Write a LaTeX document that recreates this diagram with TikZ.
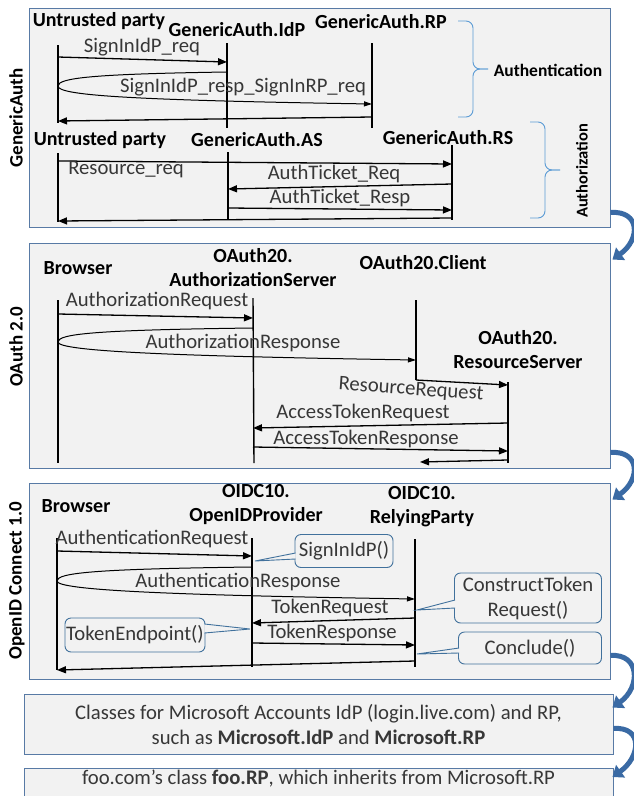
\documentclass[tikz,border=0pt]{standalone}
\usepackage{fontspec}
\setmainfont{Carlito}
\usetikzlibrary{arrows.meta}
\definecolor{panelgray}{HTML}{F2F2F2}
\definecolor{panelline}{RGB}{88,122,165}
\definecolor{braceblue}{RGB}{91,155,213}
\definecolor{calloutline}{RGB}{65,113,156}
\definecolor{flowblue}{RGB}{58,106,164}
\definecolor{labelgray}{RGB}{55,55,55}

\begin{document}
\begin{tikzpicture}[x=1pt,y=-1pt,font=\fontsize{20.7}{25}\selectfont]
  \clip (0,0) rectangle (634,796);
  \fill[white] (0,0) rectangle (634,796);
  \tikzstyle{Panel}=[draw=panelline,fill=panelgray,line width=0.9pt,inner sep=0pt]
  \tikzstyle{Side}=[rotate=90,font=\fontsize{19}{23}\selectfont\bfseries,inner sep=0pt]
  \tikzstyle{Party}=[font=\fontsize{20}{24}\selectfont\bfseries,align=center,inner sep=0pt]
  \tikzstyle{Life}=[line width=1.4pt]
  \tikzstyle{Msg}=[line width=1.3pt,-{Triangle[length=9pt,width=7pt]}]
  \tikzstyle{Redirect}=[line width=1pt,-{Triangle[length=8pt,width=5pt]}]
  \tikzstyle{MsgLabel}=[text=labelgray,inner sep=0pt]
  \tikzstyle{Brace}=[draw=braceblue,line width=0.9pt,rounded corners=7pt]
  \tikzstyle{Call}=[draw=calloutline,fill=panelgray,line width=0.9pt,rounded corners=6pt,align=center,text=labelgray,inner sep=0pt]
  \tikzstyle{Wedge}=[draw=calloutline,fill=panelgray,line width=0.9pt]
  \tikzstyle{Flow}=[draw=flowblue,line width=5pt,-{Triangle[length=10pt,width=15pt]}]

  \node[Panel,minimum width=581pt,minimum height=219pt] (ga) at (319.5,117.5) {};
  \node[Panel,minimum width=581pt,minimum height=225pt] (oa) at (319.5,355.5) {};
  \node[Panel,minimum width=581pt,minimum height=196pt] (oidc) at (319.5,581) {};
  \node[Panel,minimum width=589pt,minimum height=60pt,align=center,text=labelgray] (ms) at (318.5,724)
    {Classes for Microsoft Accounts IdP (login.live.com) and RP,\\
     such as \textbf{Microsoft.IdP} and \textbf{Microsoft.RP}};
  \node[Panel,minimum width=589pt,anchor=north,inner ysep=3pt,text height=13pt,text depth=40pt,
        text=labelgray] (foo) at (318.5,768)
    {foo.com’s class \textbf{foo.RP}, which inherits from Microsoft.RP};

  \node[Side] (s-ga) at (16,118) {GenericAuth};
  \node[Side] (s-oa) at (16,347) {OAuth 2.0};
  \node[Side] (s-oidc) at (17,581) {OpenID Connect 1.0};

  \node[Party] (p-un1) at (99,21) {Untrusted party};
  \node[Party] (p-idp) at (237,30) {GenericAuth.IdP};
  \node[Party] (p-rp) at (381,22) {GenericAuth.RP};
  \node[Party] (p-un2) at (100,140) {Untrusted party};
  \node[Party] (p-as) at (257,140) {GenericAuth.AS};
  \node[Party] (p-rs) at (448,138) {GenericAuth.RS};
  \coordinate (u1t) at (58,45);   \coordinate (u1b) at (58,123);
  \coordinate (idpt) at (227,43); \coordinate (idpb) at (227,128);
  \coordinate (rpt) at (372,43);  \coordinate (rpb) at (372,128);
  \coordinate (u2t) at (58,153);  \coordinate (u2b) at (58,222);
  \coordinate (ast) at (228,152); \coordinate (asb) at (228,220);
  \coordinate (rst) at (452,145); \coordinate (rsb) at (452,220);
  \draw[Life] (u1t) -- (u1b);
  \draw[Life] (idpt) -- (idpb);
  \draw[Life] (rpt) -- (rpb);
  \draw[Life] (u2t) -- (u2b);
  \draw[Life] (ast) -- (asb);
  \draw[Life] (rst) -- (rsb);
  \draw[Msg] (u1t |- 0,57) -- (idpt |- 0,62);
  \node[MsgLabel] (l-idpreq) at (142,47) {SignInIdP\_req};
  \draw[Redirect] (idpt |- 0,72) .. controls +(-135,2) and +(0,-8) .. (u1t |- 0,86)
    .. controls +(0,9) and +(-250,-4) .. (rpt |- 0,104);
  \node[MsgLabel] (l-idpresp) at (243,87) {SignInIdP\_resp\_SignInRP\_req};
  \draw[Msg] (rpt |- 0,117) -- (u1t |- 0,121);
  \draw[Msg] (u2t |- 0,161) -- (rst |- 0,164);
  \node[MsgLabel] (l-resreq) at (126,170) {Resource\_req};
  \draw[Msg] (rst |- 0,184) -- (ast |- 0,189);
  \node[MsgLabel] (l-ticketreq) at (334,174) {AuthTicket\_Req};
  \draw[Msg] (ast |- 0,208) -- (rst |- 0,210);
  \node[MsgLabel] (l-ticketresp) at (340,198) {AuthTicket\_Resp};
  \draw[Msg] (rst |- 0,218) -- (u2t |- 0,221);
  \draw[Brace] (458,21) -- (473,21) -- (473,69) -- (488,69);
  \draw[Brace] (458,117) -- (473,117) -- (473,69) -- (488,69);
  \node[Party,font=\fontsize{17.5}{21}\selectfont\bfseries] (authn) at (548,70) {Authentication};
  \draw[Brace] (530,122) -- (545,122) -- (545,170) -- (560,170);
  \draw[Brace] (530,218) -- (545,218) -- (545,170) -- (560,170);
  \node[Side,font=\fontsize{16.5}{20}\selectfont\bfseries] (authz) at (582,171) {Authorization};

  \node[Party] (p-br2) at (78,268) {Browser};
  \node[Party] (p-oas) at (253,268) {OAuth20.\\AuthorizationServer};
  \node[Party] (p-ocl) at (423,263) {OAuth20.Client};
  \node[Party] (p-ors) at (518,350) {OAuth20.\\ResourceServer};
  \coordinate (bwt) at (58,300);  \coordinate (bwb) at (58,463);
  \coordinate (oast) at (253,298); \coordinate (oasb) at (254,463);
  \coordinate (clt) at (416,300); \coordinate (clb) at (416,380);
  \coordinate (orst) at (508,382); \coordinate (orsb) at (508,463);
  \draw[Life] (bwt) -- (bwb);
  \draw[Life] (oast) -- (oasb);
  \draw[Life] (clt) -- (clb);
  \draw[Life] (orst) -- (orsb);
  \draw[Msg] (bwt |- 0,314) -- (oast |- 0,318);
  \node[MsgLabel] (l-authzreq) at (157,301) {AuthorizationRequest};
  \draw[Redirect] (oast |- 0,328) .. controls +(-160,2) and +(0,-8) .. (bwt |- 0,342)
    .. controls +(0,9) and +(-250,-4) .. (clt |- 0,360);
  \node[MsgLabel] (l-authzresp) at (243,343) {AuthorizationResponse};
  \draw[Msg] (clb) -- (orst |- 0,385);
  \node[MsgLabel,rotate=-4] (l-resource) at (411,390) {ResourceRequest};
  \draw[Msg] (orst |- 0,423) -- (oast |- 0,428);
  \node[MsgLabel] (l-atreq) at (363,413) {AccessTokenRequest};
  \draw[Msg] (oast |- 0,447) -- (orst |- 0,451);
  \node[MsgLabel] (l-atresp) at (366,439) {AccessTokenResponse};
  \coordinate (back) at (420,462);
  \draw[Msg] (orst |- 0,460) -- (back);

  \node[Party] (p-br3) at (76,506) {Browser};
  \node[Party] (p-op) at (256,505) {OIDC10.\\OpenIDProvider};
  \node[Party] (p-rp3) at (422,507) {OIDC10.\\RelyingParty};
  \coordinate (b3t) at (57,538);  \coordinate (b3b) at (57,670);
  \coordinate (opt) at (252,538); \coordinate (opb) at (252,667);
  \coordinate (rp3t) at (415,539); \coordinate (rp3b) at (415,667);
  \draw[Life] (b3t) -- (b3b);
  \draw[Life] (opt) -- (opb);
  \draw[Life] (rp3t) -- (rp3b);
  \draw[Msg] (b3t |- 0,551) -- (opt |- 0,556);
  \node[MsgLabel] (l-authnreq) at (152,539) {AuthenticationRequest};
  \draw[Redirect] (opt |- 0,567) .. controls +(-160,2) and +(0,-8) .. (b3t |- 0,581)
    .. controls +(0,9) and +(-250,-4) .. (rp3t |- 0,599);
  \node[MsgLabel] (l-authnresp) at (238,582) {AuthenticationResponse};
  \draw[Msg] (rp3t |- 0,618) -- (opt |- 0,623);
  \node[MsgLabel] (l-tokreq) at (330,608) {TokenRequest};
  \draw[Msg] (opt |- 0,643) -- (rp3t |- 0,645);
  \node[MsgLabel] (l-tokresp) at (332,633) {TokenResponse};
  \draw[Msg] (rp3t |- 0,661) -- (b3b);

  \node[Call,minimum width=98pt,minimum height=33pt] (c-signin) at (344,551) {SignInIdP()};
  \coordinate (t-signin) at (255,561);
  \draw[Wedge] ([xshift=1pt,yshift=-2pt]c-signin.west) -- (t-signin) -- ([xshift=1pt,yshift=-8pt]c-signin.west);
  \node[Call,minimum width=147pt,minimum height=50pt] (c-construct) at (528,598) {ConstructToken\\Request()};
  \coordinate (t-construct) at (417,610);
  \draw[Wedge] ([xshift=1pt,yshift=-2pt]c-construct.west) -- (t-construct) -- ([xshift=1pt,yshift=-10pt]c-construct.west);
  \node[Call,minimum width=143pt,minimum height=32pt] (c-conclude) at (530,648) {Conclude()};
  \coordinate (t-conclude) at (417,654);
  \draw[Wedge] ([xshift=1pt,yshift=0pt]c-conclude.west) -- (t-conclude) -- ([xshift=1pt,yshift=-5pt]c-conclude.west);
  \node[Call,minimum width=140pt,minimum height=34pt] (c-tokend) at (135,635) {TokenEndpoint()};
  \coordinate (t-tokend) at (250,629);
  \draw[Wedge] ([xshift=-1pt,yshift=11pt]c-tokend.east) -- (t-tokend) -- ([xshift=-1pt,yshift=2pt]c-tokend.east);

  \coordinate (f1s) at ([yshift=15pt]ga.south east);
  \coordinate (f1e) at ([xshift=2pt,yshift=-17pt]oa.north east);
  \coordinate (f2s) at ([yshift=16pt]oa.south east);
  \coordinate (f2e) at ([xshift=2pt,yshift=-17pt]oidc.north east);
  \coordinate (f3s) at ([yshift=24pt]oidc.south east);
  \coordinate (f3e) at ([xshift=-1pt,yshift=-14pt]ms.north east);
  \coordinate (f4s) at ([yshift=26pt]ms.south east);
  \coordinate (f4e) at ([xshift=-1pt,yshift=-9pt]foo.north east);
  \draw[Flow] (f1s) .. controls +(30,-2) and +(28,-20) .. (f1e);
  \draw[Flow] (f2s) .. controls +(30,-2) and +(28,-20) .. (f2e);
  \draw[Flow] (f3s) .. controls +(30,-2) and +(28,-20) .. (f3e);
  \draw[Flow] (f4s) .. controls +(30,-2) and +(28,-20) .. (f4e);
\end{tikzpicture}
\end{document}
